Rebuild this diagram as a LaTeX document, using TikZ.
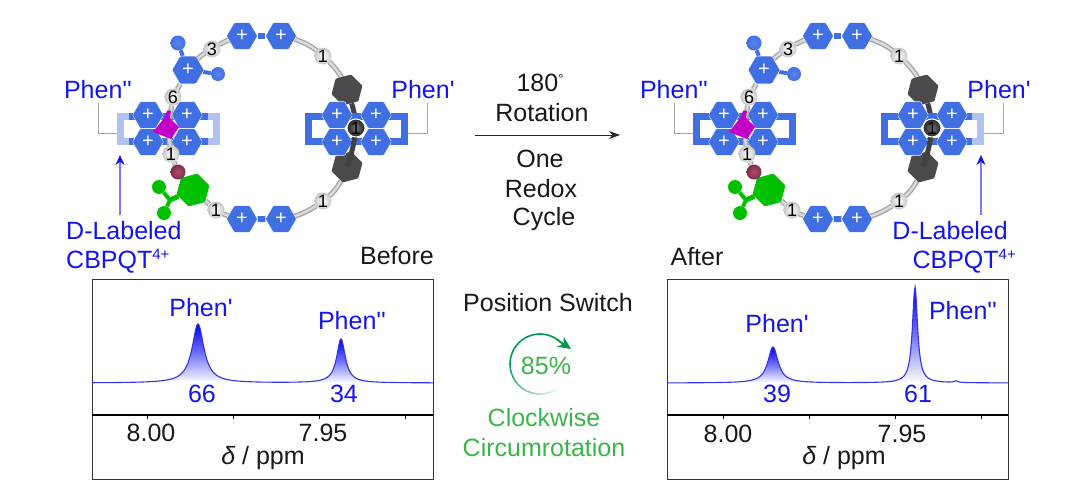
\documentclass[tikz,border=0pt]{standalone}
\usepackage{fontspec}
\usetikzlibrary{shapes.geometric,arrows.meta}
\newfontfamily\hv{Liberation Sans}
\definecolor{hexblue}{HTML}{3F6FE2}
\definecolor{paleblue}{HTML}{AFC2F0}
\definecolor{labelblue}{HTML}{1414F0}
\definecolor{arrowblue}{HTML}{7A7AFF}
\definecolor{hexdark}{HTML}{4A4A4C}
\definecolor{hexgreen}{HTML}{00C000}
\definecolor{magentap}{HTML}{C400C8}
\definecolor{txtgreen}{HTML}{3AB54A}
\definecolor{arcgreen}{HTML}{009A4E}
\definecolor{maroonA}{HTML}{B04A70}
\definecolor{maroonB}{HTML}{7E2C4E}
\definecolor{specblue}{HTML}{3434E6}
\pgfdeclarelayer{paper}
\pgfdeclarelayer{bg}
\pgfsetlayers{paper,bg,main}
\tikzset{
  txt/.style={font=\hv\fontsize{25}{29}\selectfont,inner sep=0pt,text=#1},
  txt/.default=black!90,
  btxt/.style={txt=labelblue},
  gtxt/.style={txt=txtgreen},
  hexnode/.style={regular polygon,regular polygon sides=6,inner sep=0pt,minimum size=31pt,
    fill=hexblue,draw=white,line width=.4pt,rounded corners=1pt,text=white,
    font=\hv\fontsize{20}{20}\selectfont},
  hexdk/.style={regular polygon,regular polygon sides=6,inner sep=0pt,minimum size=32pt,
    fill=hexdark,rounded corners=1pt,rotate=15},
  hexgr/.style={regular polygon,regular polygon sides=6,inner sep=0pt,minimum size=34pt,
    fill=hexgreen,rounded corners=1pt,rotate=15},
  beadnode/.style={circle,inner sep=0pt,minimum size=17pt,inner color=white,outer color=black!22,
    font=\hv\fontsize{18}{18}\selectfont,text=black},
  beaddark/.style={circle,inner sep=0pt,minimum size=18pt,inner color=black!55,outer color=black!85,
    draw=white,line width=1pt,font=\hv\fontsize{18}{18}\selectfont,text=black},
  ballb/.style={circle,inner sep=0pt,minimum size=#1,inner color=hexblue!85!white,outer color=hexblue},
  ballg/.style={circle,inner sep=0pt,minimum size=#1,fill=hexgreen},
  ballm/.style={circle,inner sep=0pt,minimum size=15pt,inner color=maroonA,outer color=maroonB},
  ringlink/.style={draw=black!35,double=black!14,double distance=2.4pt,line width=1.4pt},
  bluelink/.style={draw=hexblue,line width=6pt},
  greenlink/.style={draw=hexgreen,line width=5pt},
  darklink/.style={draw=black!75,line width=5pt},
  barlink/.style={draw=#1,line width=7pt,line join=miter},
  leader/.style={draw=black!35,line width=.8pt},
  bluearrow/.style={draw=arrowblue,line width=1.2pt,-{Stealth[length=10pt,width=9pt,color=labelblue]}},
  spec/.style={draw=specblue,line width=1.1pt},
  frame/.style={draw=black!80,line width=.9pt},
  axisl/.style={draw=black,line width=1.1pt},
  tick/.style={draw=black,line width=.8pt},
}
% molecule: #1 x shift, #2 name prefix, #3 left side colour, #4 right side colour
\newcommand{\molecule}[4]{%
\begin{scope}[shift={(#1,0)},name prefix=#2-]
  \node[hexnode] (h1) at (242,36) {+};
  \node[hexnode] (h2) at (281,36) {+};
  \node[hexnode] (h3) at (281,219) {+};
  \node[hexnode] (h4) at (242,219) {+};
  \node[beadnode] (b1) at (323,56) {1};
  \node[beadnode] (b2) at (323,201) {1};
  \node[beadnode] (b3) at (216,210) {1};
  \node[hexdk] (d1) at (347,90) {};
  \node[hexdk] (d2) at (347,167) {};
  \node[ballb=15pt] (bs1) at (178,43) {};
  \node[ballb=14pt] (bs2) at (218,74) {};
  \node[hexnode,minimum size=32pt] (st) at (188,70) {+};
  \node[beadnode] (b6) at (212,49) {3};
  \node[beadnode] (b5) at (173,97) {6};
  \node[ballg=14pt] (g1) at (159,187) {};
  \node[ballg=14pt] (g2) at (164,213) {};
  \coordinate (gj) at (170,200);
  \node[hexgr] (gh) at (193,190) {};
  % rectangle corners of the two cyclophanes
  \coordinate (la) at (120.5,116); \coordinate (lb) at (216.5,116);
  \coordinate (lc) at (216.5,141); \coordinate (ld) at (120.5,141);
  \coordinate (ra) at (308.5,116); \coordinate (rb) at (404.5,116);
  \coordinate (rc) at (404.5,141); \coordinate (rd) at (308.5,141);
  \coordinate (cm) at (168,129);
  \coordinate (b7c) at (356,128);
  \begin{pgfonlayer}{bg}
    \draw[ringlink] (h2) to[bend left=12] (b1);
    \draw[ringlink] (b1) to[bend left=12] (d1);
    \draw[ringlink] (d2) to[bend left=12] (b2);
    \draw[ringlink] (b2) to[bend left=12] (h3);
    \draw[ringlink] (h4) to[bend left=6] (b3);
    \draw[ringlink] (b3) to (gh);
    \draw[ringlink] (st) to (b5);
    \draw[ringlink] (st) to[bend left=8] (b6);
    \draw[ringlink] (b6) to[bend left=8] (h1);
    \draw[bluelink] (h1) -- (h2);
    \draw[bluelink] (h3) -- (h4);
    \draw[bluelink,line width=4pt] (st) -- (bs1);
    \draw[bluelink,line width=4pt] (st) -- (bs2);
    \draw[greenlink] (gh) -- (gj);
    \draw[greenlink,line width=4pt] (gj) -- (g1);
    \draw[greenlink,line width=4pt] (gj) -- (g2);
  \end{pgfonlayer}
  % rail passing behind the upper bar of the right ring
  \draw[darklink] (d1) to[bend left=6] (b7c);
  % left ring
  \draw[barlink=hexblue,line cap=butt] (la) -- (lb);
  \draw[barlink=hexblue,line cap=butt] (ld) -- (lc);
  \draw[barlink=#3] (129,116) -- (la) -- (ld) -- (129,141);
  \draw[barlink=#3] (208,116) -- (lb) -- (lc) -- (208,141);
  \node[hexnode] (c1) at (148,115) {+};
  \node[hexnode] (c2) at (187,115) {+};
  \node[hexnode] (c3) at (148,142) {+};
  \node[hexnode] (c4) at (187,142) {+};
  % right ring
  \draw[barlink=hexblue,line cap=butt] (ra) -- (rb);
  \draw[barlink=hexblue,line cap=butt] (rd) -- (rc);
  \draw[barlink=hexblue] (317,116) -- (ra) -- (rd) -- (317,141);
  \draw[barlink=#4] (396,116) -- (rb) -- (rc) -- (396,141);
  \node[hexnode] (e1) at (337,115) {+};
  \node[hexnode] (e2) at (376,115) {+};
  \node[hexnode] (e3) at (337,142) {+};
  \node[hexnode] (e4) at (376,142) {+};
  % left station
  \node[ballm] (mar) at (178,172) {};
  \draw[ringlink] (b5) -- (cm);
  \draw[ringlink] (cm) -- (171,154);
  \node[beadnode] (b4) at (171,154) {1};
  \begin{pgfonlayer}{bg}
    \draw[ringlink] (b4) -- (mar);
    \draw[greenlink,line width=3pt] (mar) -- (gh);
  \end{pgfonlayer}
  \fill[magentap] (167,110.5) -- (171,110.5) -- (170,118) -- (179,127) -- (171,139) -- (153,132) -- (165,117) -- cycle;
  % right station
  \draw[darklink] (b7c) to[bend left=6] (d2);
  \node[beaddark] (b7) at (b7c) {1};
  % labels
  \node[btxt] (p2) at (98,90) {Phen''};
  \node[btxt] (p1) at (423,90) {Phen'};
  \coordinate (lk1) at (98,133); \coordinate (lk2) at (427,133);
  \coordinate (lt1) at (98,103); \coordinate (lt2) at (427,103);
  \coordinate (le1) at (117,133); \coordinate (le2) at (408,133);
  \draw[leader] (lt1) -- (lk1) -- (le1);
  \draw[leader] (lt2) -- (lk2) -- (le2);
\end{scope}}
% Lorentzian spectrum helpers
\newcommand{\lorz}[3]{(#2)/(1+((\x-(#1))/(#3))^2)}
\newcommand{\peakfill}[3]{%
  \begin{scope}
    \clip plot[domain=#1-35:#1+35,samples=90] (\x,{383-\lorz{#1}{#2}{#3}}) -- cycle;
    \shade[top color=blue!90!black,bottom color=white,middle color=blue!55!white] (#1-36,383-#2) rectangle (#1+36,383);
  \end{scope}}
\begin{document}
\begin{tikzpicture}[x=1pt,y=-1pt]
\useasboundingbox (0,0) rectangle (1080,496);
\begin{pgfonlayer}{paper}
\fill[white] (0,0) rectangle (1080,496);
\end{pgfonlayer}
\molecule{0}{L}{paleblue}{hexblue}
\molecule{576}{R}{hexblue}{paleblue}

% D-labeled captions
\node[btxt,anchor=west] (dl1) at (66,231) {D-Labeled};
\node[btxt,anchor=west] (dl2) at (66,261) {CBPQT\raisebox{9pt}{\fontsize{15}{15}\selectfont 4+}};
\coordinate (da1) at (120,215); \coordinate (da2) at (120,155);
\draw[bluearrow] (da1) -- (da2);
\node[btxt,anchor=east] (dr1) at (1008,231) {D-Labeled};
\node[btxt,anchor=east] (dr2) at (1016,261) {CBPQT\raisebox{9pt}{\fontsize{15}{15}\selectfont 4+}};
\coordinate (db1) at (981,215); \coordinate (db2) at (981,155);
\draw[bluearrow] (db1) -- (db2);

\node[txt] (before) at (397,256) {Before};
\node[txt] (after) at (697,257) {After};

% centre reaction
\node[txt] (t180) at (540,83) {180\raisebox{8pt}{\fontsize{13}{13}\selectfont °}};
\node[txt] (trot) at (542,113) {Rotation};
\node[txt] (tone) at (540,159) {One};
\node[txt] (tred) at (541,189) {Redox};
\node[txt] (tcyc) at (544,219) {Cycle};
\coordinate (ra1) at (475,135); \coordinate (ra2) at (620,135);
\draw[draw=black!85,line width=1pt,-{Stealth[length=11pt,width=8pt]}] (ra1) -- (ra2);

% left plot
\coordinate (pa) at (92,279); \coordinate (pb) at (433,479);
\coordinate (pc) at (92,415); \coordinate (pd) at (433,415);
\draw[frame] (pa) rectangle (pb);
\draw[axisl] (pc) -- (pd);
\foreach \t in {147,233,319,405} \draw[tick] (\t,415) -- (\t,418.5);
\peakfill{198}{59}{7.2}
\peakfill{341}{44}{5.2}
\draw[spec] plot[domain=92:433,samples=342] (\x,{383-\lorz{198}{59}{7.2}-\lorz{341}{44}{5.2}});
\node[btxt] (lp1) at (201,308) {Phen'};
\node[btxt] (lp2) at (352,321) {Phen''};
\node[btxt] (ln1) at (202,394) {66};
\node[btxt] (ln2) at (344,394) {34};
\node[txt] (lx1) at (151,433) {8.00};
\node[txt] (lx2) at (323,433) {7.95};
\node[txt] (lxl) at (263,458) {{\itshape δ} / ppm};

% right plot
\coordinate (qa) at (667,279); \coordinate (qb) at (1008,479);
\coordinate (qc) at (667,415); \coordinate (qd) at (1008,415);
\draw[frame] (qa) rectangle (qb);
\draw[axisl] (qc) -- (qd);
\foreach \t in {723,809,895,981} \draw[tick] (\t,415) -- (\t,418.5);
\peakfill{773}{36}{6.2}
\peakfill{915}{96}{3.1}
\draw[spec] plot[domain=667:1008,samples=500] (\x,{383-\lorz{773}{36}{6.2}-\lorz{915}{96}{3.1}-\lorz{956}{1.5}{2.5}});
\node[btxt] (rp1) at (777,324) {Phen'};
\node[btxt] (rp2) at (963,311) {Phen''};
\node[btxt] (rn1) at (777,394) {39};
\node[btxt] (rn2) at (918,394) {61};
\node[txt] (rx1) at (728,434) {8.00};
\node[txt] (rx2) at (902,434) {7.95};
\node[txt] (rxl) at (844,458) {{\itshape δ} / ppm};

% centre summary
\node[txt] (ps) at (548,303) {Position Switch};
\foreach \i [evaluate=\i as \p using {min(100,\i*100/14)}] in {0,...,27}
  \draw[draw=arcgreen!\p!white,line width=1.6pt]
    plot[domain=-40-10*\i:-50-10*\i,samples=3] ({540+30*cos(\x)},{364-30*sin(\x)});
\coordinate (ah1) at (557,339.5); \coordinate (ah2) at (571,349);
\draw[draw=arcgreen,line width=1.6pt,-{Stealth[length=13pt,width=12pt]}] (ah1) -- (ah2);
\node[gtxt] (pct) at (546,366) {85\%};
\node[gtxt] (ccw) at (544,418) {Clockwise};
\node[gtxt] (cir) at (544,448) {Circumrotation};
\end{tikzpicture}
\end{document}
